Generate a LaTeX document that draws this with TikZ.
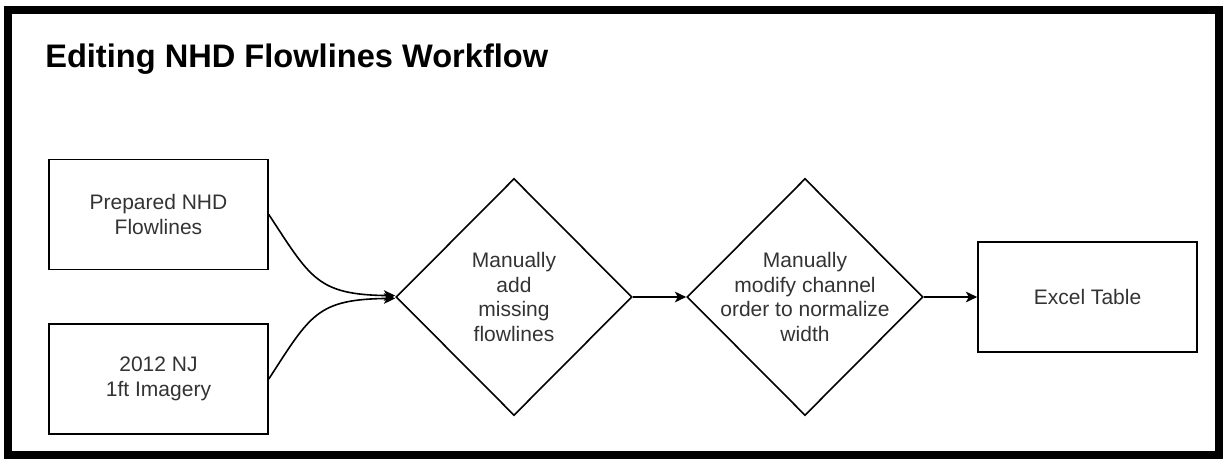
\documentclass[tikz,border=0pt]{standalone}
\usepackage{fontspec}
\setmainfont{Liberation Sans}
\usetikzlibrary{shapes.geometric,arrows.meta}
\definecolor{bodytext}{HTML}{333333}
\begin{document}
\begin{tikzpicture}[x=0.75pt,y=-0.75pt,
  box/.style={draw=black,line width=1.2pt,rectangle,minimum width=219*0.75pt,
    minimum height=110*0.75pt,inner sep=0pt,align=center,text=bodytext,
    font=\fontsize{15.75}{18.4}\selectfont},
  dia/.style={draw=black,line width=1.2pt,diamond,minimum width=236*0.75pt,
    minimum height=237*0.75pt,inner sep=0pt},
  diatext/.style={align=center,text=bodytext,inner sep=0pt,
    font=\fontsize{15.75}{18.6}\selectfont},
  flow/.style={line width=1.2pt,-{Stealth[length=8.5pt,width=8pt,inset=2.2pt]}}]
  \useasboundingbox (0,0) rectangle (1223,458);
  % frame
  \draw[line width=6pt] (8,10) rectangle (1219,455);
  % title
  \node[anchor=base west,inner sep=0pt,font=\bfseries\fontsize{24.45}{28}\selectfont]
    (title) at (45,67) {Editing NHD Flowlines Workflow};
  % inputs
  \node[box] (nhd) at (158.5,214.5) {Prepared NHD\\Flowlines};
  \node[box] (img) at (158.5,379) {2012 NJ\\1ft Imagery};
  % editing steps
  \node[dia] (add) at (514,297) {};
  \node[diatext] (addtxt) at (add.center) {Manually\\add\\missing\\flowlines};
  \node[dia] (mod) at (805,297) {};
  \node[diatext] (modtxt) at (mod.center) {Manually\\modify channel\\order to normalize\\width};
  % output
  \node[box] (xls) at (1087.5,297) {Excel Table};
  % connectors
  \draw[flow] (nhd.east) .. controls +(42,64) and +(-78,-1) .. ([yshift=1pt]add.west);
  \draw[flow] (img.east) .. controls +(42,-65) and +(-78,1) .. ([yshift=-1pt]add.west);
  \draw[flow] (add.east) -- (mod.west);
  \draw[flow] (mod.east) -- (xls.west);
\end{tikzpicture}
\end{document}
